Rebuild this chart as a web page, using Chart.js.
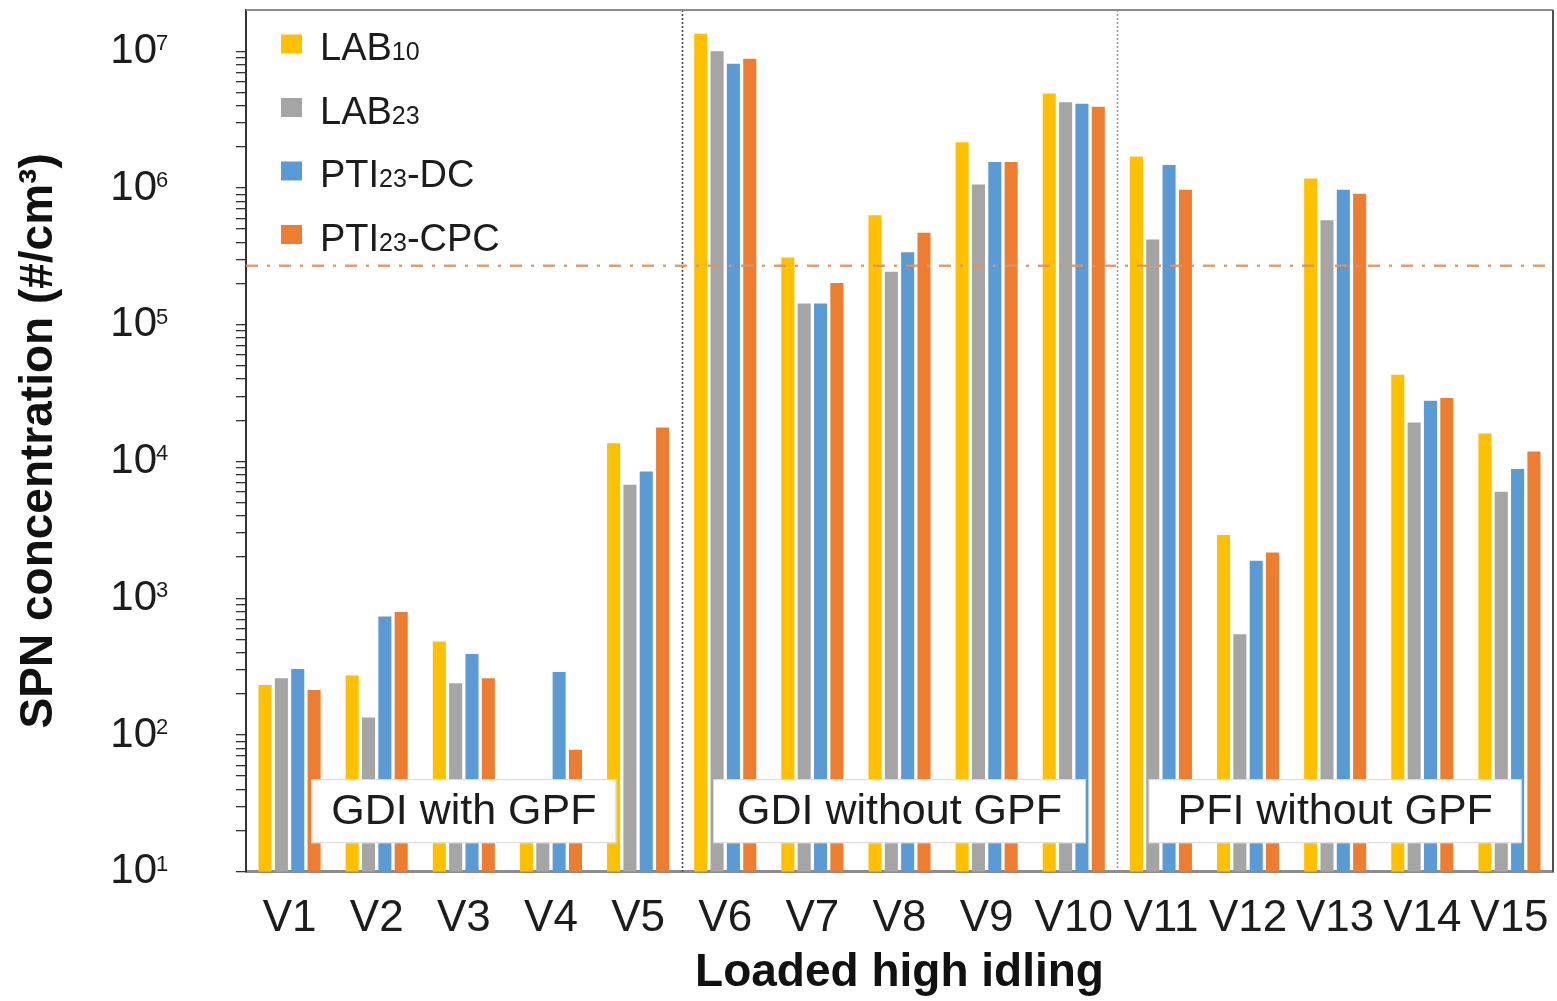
<!DOCTYPE html>
<html>
<head>
<meta charset="utf-8">
<title>SPN concentration at loaded high idling</title>
<script src="https://cdn.jsdelivr.net/npm/chart.js@4.4.1/dist/chart.umd.min.js"></script>
<style>
  html, body { margin: 0; padding: 0; background: #ffffff; }
  #wrap { width: 1557px; height: 1001px; position: relative; }
</style>
</head>
<body>
<div id="wrap"><canvas id="chart"></canvas></div>
<script>
// ---- data ----
const categories = ['V1','V2','V3','V4','V5','V6','V7','V8','V9','V10','V11','V12','V13','V14','V15'];
const seriesNames = ['LAB₁₀', 'LAB₂₃', 'PTI₂₃-DC', 'PTI₂₃-CPC'];

// SPN concentration (#/cm3) per vehicle
const lab10    = [232, 272, 482, 40, 13600, 1.34e7, 3.1e5, 6.3e5, 2.16e6, 4.9e6, 1.7e6, 2900, 1.17e6, 43000, 16000];
const lab23    = [260, 134, 239, 40, 6750,  1.0e7,  1.43e5, 2.44e5, 1.06e6, 4.23e6, 4.2e5, 546, 5.8e5, 19300, 6000];
const pti23dc  = [303, 734, 390, 288, 8450, 8.1e6, 1.43e5, 3.38e5, 1.55e6, 4.12e6, 1.47e6, 1880, 9.7e5, 27800, 8800];
const pti23cpc = [213, 791, 260, 78, 17700, 8.8e6, 2.02e5, 4.7e5, 1.55e6, 3.92e6, 9.7e5, 2160, 9.05e5, 29100, 11800];

const yTickExponents = [1, 2, 3, 4, 5, 6, 7];
const yMin = 10;
const yMax = 2e7;
const pnLimit = 2.7e5;

const groupNames = ['GDI with GPF', 'GDI without GPF', 'PFI without GPF'];
const groupRanges = [[0, 4], [5, 9], [10, 14]];

// ---- style ----
const FONT = "'Liberation Sans', Arial, Helvetica, sans-serif";
const TEXT = '#1c1c1c';
const seriesColors = ['#FFC000', '#A5A5A5', '#5B9BD5', '#ED7D31'];
const separatorColors = ['#4a4a4a', '#9a9a9a'];
const groupBoxWidths = [305, 373, 373];

const SUB = { '₀':'0','₁':'1','₂':'2','₃':'3','₄':'4','₅':'5','₆':'6','₇':'7','₈':'8','₉':'9' };

// text with subscript digits drawn smaller on the same baseline
function drawRich(ctx, text, x, baseline, size, subSize) {
  let cx = x;
  let run = '', runSub = null;
  const flush = () => {
    if (!run) return;
    ctx.font = `${runSub ? subSize : size}px ${FONT}`;
    ctx.fillText(run, cx, baseline);
    cx += ctx.measureText(run).width;
    run = '';
  };
  for (const ch of text) {
    const isSub = ch in SUB;
    if (runSub !== null && isSub !== runSub) flush();
    runSub = isSub;
    run += isSub ? SUB[ch] : ch;
  }
  flush();
}

const decor = {
  id: 'decor',
  beforeDatasetsDraw(chart) {
    const { ctx, chartArea: a, scales: { x } } = chart;
    ctx.save();
    // dotted separators between engine groups
    groupRanges.slice(0, -1).forEach((r, i) => {
      const px = Math.round((x.getPixelForValue(r[1]) + x.getPixelForValue(r[1] + 1)) / 2) + 0.5;
      ctx.strokeStyle = separatorColors[i];
      ctx.lineWidth = 1.6;
      ctx.setLineDash([2, 2]);
      ctx.beginPath();
      ctx.moveTo(px, a.top);
      ctx.lineTo(px, a.bottom);
      ctx.stroke();
    });
    ctx.restore();
  },
  afterDatasetsDraw(chart) {
    const { ctx, chartArea: a, scales: { x, y } } = chart;
    ctx.save();
    // PN limit line
    const ly = y.getPixelForValue(pnLimit);
    ctx.strokeStyle = 'rgba(221,146,98,0.9)';
    ctx.lineWidth = 2.5;
    ctx.setLineDash([12, 9, 3, 9]);
    ctx.beginPath();
    ctx.moveTo(a.left, ly);
    ctx.lineTo(a.right, ly);
    ctx.stroke();
    ctx.setLineDash([]);

    // group name boxes
    groupRanges.forEach((r, i) => {
      const cx = (x.getPixelForValue(r[0]) + x.getPixelForValue(r[1])) / 2;
      const w = groupBoxWidths[i];
      const h = 64;
      const top = a.bottom - 92.5;
      ctx.fillStyle = '#ffffff';
      ctx.fillRect(cx - w / 2, top, w, h);
      ctx.strokeStyle = '#d8d8d8';
      ctx.lineWidth = 1;
      ctx.strokeRect(cx - w / 2 + 0.5, top + 0.5, w - 1, h - 1);
      ctx.fillStyle = TEXT;
      ctx.font = `43px ${FONT}`;
      ctx.textAlign = 'center';
      ctx.textBaseline = 'middle';
      ctx.fillText(groupNames[i], cx, top + h / 2 + 1);
    });
    ctx.restore();
  },
  afterDraw(chart) {
    const { ctx, chartArea: a, scales: { y } } = chart;
    ctx.save();
    // top and right frame
    ctx.strokeStyle = '#8a8a8a';
    ctx.lineWidth = 2;
    ctx.beginPath();
    ctx.moveTo(a.left, a.top);
    ctx.lineTo(a.right, a.top);
    ctx.stroke();
    ctx.strokeStyle = '#505050';
    ctx.beginPath();
    ctx.moveTo(a.right, a.top);
    ctx.lineTo(a.right, a.bottom);
    ctx.stroke();

    // y tick labels as powers of ten
    ctx.fillStyle = TEXT;
    yTickExponents.forEach(e => {
      const py = y.getPixelForValue(Math.pow(10, e));
      ctx.font = `42px ${FONT}`;
      ctx.textAlign = 'right';
      ctx.textBaseline = 'middle';
      ctx.fillText('10', 157, py);
      ctx.font = `22px ${FONT}`;
      ctx.textAlign = 'left';
      ctx.textBaseline = 'alphabetic';
      ctx.fillText(String(e), 156, py - 1);
    });

    // legend
    chart.data.datasets.forEach((ds, i) => {
      const rowY = 45 + i * 63.5;
      ctx.fillStyle = ds.backgroundColor;
      ctx.fillRect(281, rowY - 10.5, 21, 19);
      ctx.fillStyle = TEXT;
      ctx.textAlign = 'left';
      ctx.textBaseline = 'alphabetic';
      drawRich(ctx, ds.label, 320, rowY + 15, 38, 25);
    });
    ctx.restore();
  }
};

const minorTicks = [];
for (let e = 1; e <= 7; e++) {
  for (let m = 1; m <= 9; m++) {
    const v = m * Math.pow(10, e);
    if (v <= Math.pow(10, 7)) minorTicks.push(v);
  }
}

const seriesData = [lab10, lab23, pti23dc, pti23cpc];

new Chart(document.getElementById('chart'), {
  type: 'bar',
  data: {
    labels: categories,
    datasets: seriesData.map((d, i) => ({
      label: seriesNames[i],
      data: d,
      backgroundColor: seriesColors[i],
      borderWidth: 0,
      categoryPercentage: 0.75,
      barPercentage: 0.8
    }))
  },
  options: {
    responsive: true,
    maintainAspectRatio: false,
    animation: false,
    layout: { padding: { top: 10, right: 4, left: 0, bottom: 0 } },
    plugins: {
      legend: { display: false },
      tooltip: { enabled: false }
    },
    scales: {
      x: {
        type: 'category',
        offset: true,
        grid: { display: false, drawTicks: false },
        border: { display: true, color: '#8c8c8c', width: 3 },
        ticks: {
          color: TEXT,
          font: { family: FONT, size: 44, lineHeight: 2.15 },
          padding: 0,
          maxRotation: 0,
          autoSkip: false
        },
        title: {
          display: true,
          text: 'Loaded high idling',
          color: '#111',
          font: { family: FONT, size: 46, weight: 'bold' },
          padding: { top: 0, bottom: 0 }
        },
        afterFit(s) { s.height = 129.3; }
      },
      y: {
        type: 'logarithmic',
        position: 'left',
        min: yMin,
        max: yMax,
        grid: {
          display: true,
          drawOnChartArea: false,
          drawTicks: true,
          tickLength: 10,
          color: '#333',
          lineWidth: 1.3
        },
        border: { display: true, color: '#333', width: 2 },
        ticks: { display: false },
        title: {
          display: true,
          text: 'SPN concentration (#/cm³)',
          color: '#111',
          font: { family: FONT, size: 46, weight: 'bold' },
          padding: { top: 12, bottom: 0 }
        },
        afterBuildTicks(s) { s.ticks = minorTicks.map(v => ({ value: v })); },
        afterFit(s) { s.width = 246; }
      }
    }
  },
  plugins: [decor]
});
</script>
</body>
</html>
